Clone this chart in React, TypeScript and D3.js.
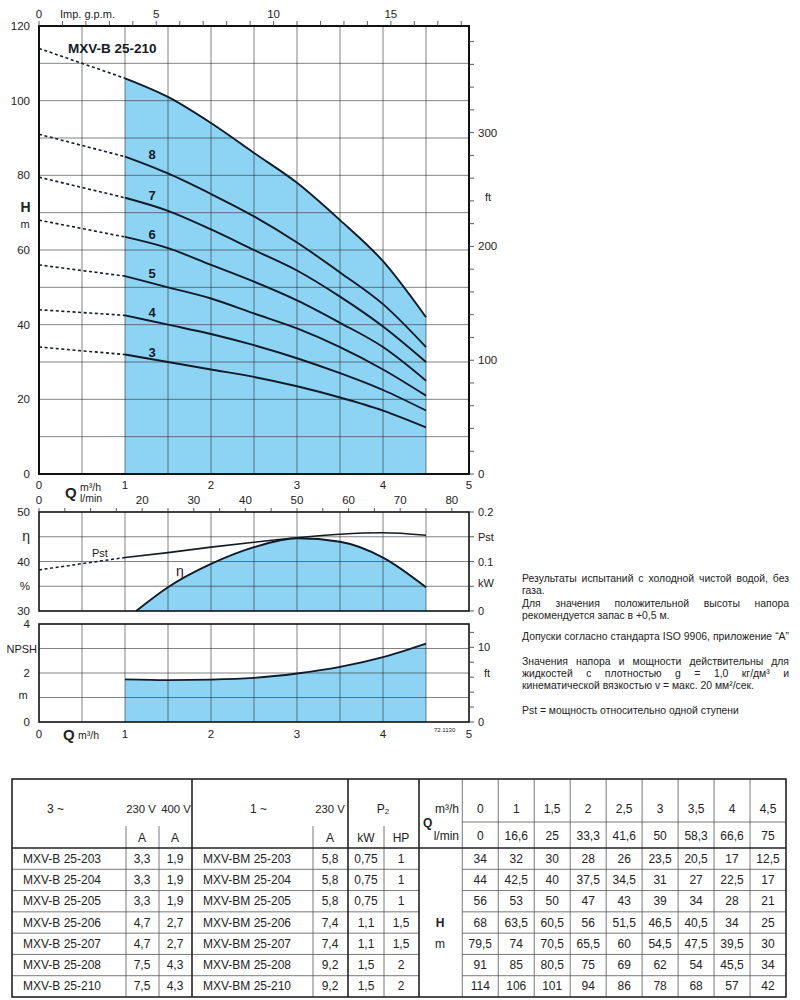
import React, { useMemo } from "react";
import * as d3 from "d3";

// ---------- DATA ----------
const qPoints = [0, 1, 1.5, 2, 2.5, 3, 3.5, 4, 4.5];
const qHeaderM3h = ["0", "1", "1,5", "2", "2,5", "3", "3,5", "4", "4,5"];
const qHeaderLmin = ["0", "16,6", "25", "33,3", "41,6", "50", "58,3", "66,6", "75"];

const models3 = ["MXV-B 25-203", "MXV-B 25-204", "MXV-B 25-205", "MXV-B 25-206", "MXV-B 25-207", "MXV-B 25-208", "MXV-B 25-210"];
const models1 = ["MXV-BM 25-203", "MXV-BM 25-204", "MXV-BM 25-205", "MXV-BM 25-206", "MXV-BM 25-207", "MXV-BM 25-208", "MXV-BM 25-210"];
const amp230 = ["3,3", "3,3", "3,3", "4,7", "4,7", "7,5", "7,5"];
const amp400 = ["1,9", "1,9", "1,9", "2,7", "2,7", "4,3", "4,3"];
const amp1ph = ["5,8", "5,8", "5,8", "7,4", "7,4", "9,2", "9,2"];
const powerKW = ["0,75", "0,75", "0,75", "1,1", "1,1", "1,5", "1,5"];
const powerHP = ["1", "1", "1", "1,5", "1,5", "2", "2"];

const head203 = [34, 32, 30, 28, 26, 23.5, 20.5, 17, 12.5];
const head204 = [44, 42.5, 40, 37.5, 34.5, 31, 27, 22.5, 17];
const head205 = [56, 53, 50, 47, 43, 39, 34, 28, 21];
const head206 = [68, 63.5, 60.5, 56, 51.5, 46.5, 40.5, 34, 25];
const head207 = [79.5, 74, 70.5, 65.5, 60, 54.5, 47.5, 39.5, 30];
const head208 = [91, 85, 80.5, 75, 69, 62, 54, 45.5, 34];
const head210 = [114, 106, 101, 94, 86, 78, 68, 57, 42];
const headSeries = [head203, head204, head205, head206, head207, head208, head210];
const stageLabels = ["3", "4", "5", "6", "7", "8"];
const modelLabel = "MXV-B 25-210";

const effQ = [1.13, 1.5, 2, 2.5, 3, 3.5, 4, 4.5];
const effVal = [30, 34.8, 39.5, 42.9, 44.7, 44.0, 40.8, 34.8];
const pstQDashed = [0, 0.5, 1];
const pstValDashed = [0.083, 0.0956, 0.108];
const pstQ = [1, 1.5, 2, 2.5, 3, 3.5, 4, 4.5];
const pstVal = [0.108, 0.118, 0.129, 0.139, 0.148, 0.155, 0.158, 0.153];
const npshQ = [1, 1.5, 2, 2.5, 3, 3.5, 4, 4.5];
const npshVal = [1.74, 1.71, 1.73, 1.8, 1.98, 2.25, 2.65, 3.2];

const hTicks = [0, 20, 40, 60, 80, 100, 120];
const ftTicks = [0, 100, 200, 300];
const gpmTicks = [0, 5, 10, 15];
const qTicks = [0, 1, 2, 3, 4, 5];
const lminTicks = [0, 20, 30, 40, 50, 60, 70, 80];

const noteLines = [
  { t: "Результаты испытаний с холодной чистой водой, без", j: true },
  { t: "газа.", j: false },
  { t: "Для значения положительной высоты напора", j: true },
  { t: "рекомендуется запас в +0,5 м.", j: false },
  { t: "Допуски согласно стандарта ISO 9906, приложение “A”", j: true },
  { t: "Значения напора и мощности действительны для", j: true },
  { t: "жидкостей с плотностью g = 1,0 кг/дм³ и", j: true },
  { t: "кинематической вязкостью v = макс. 20 мм²/сек.", j: false },
  { t: "Pst = мощность относительно одной ступени", j: false },
];
const noteY = [582, 594, 607, 619, 640, 665, 677, 689, 714];

// ---------- STYLE ----------
const FONT = "'Liberation Sans', Arial, Helvetica, sans-serif";
const BLUE = "#8dd4f4";
const INK = "#111b27";
const TXT = "#222";
const GRID = "#2a2a2a";

const M_TO_FT = 3.28084;
const GPM_PER_M3H = 3.6662;
const LMIN_PER_M3H = 16.6667;

function JustText({ text, x, y, width, justify, size }: any) {
  const measured = useMemo(() => {
    const c = document.createElement("canvas").getContext("2d") as CanvasRenderingContext2D;
    c.font = `${size}px 'Liberation Sans'`;
    const words = text.split(" ");
    const ws = words.map((w: string) => c.measureText(w).width);
    return { words, ws };
  }, [text, size]);
  if (!justify) {
    return (
      <text x={x} y={y} fontSize={size} fontFamily={FONT} fill={TXT}>
        {text}
      </text>
    );
  }
  const { words, ws } = measured;
  const total = ws.reduce((a: number, b: number) => a + b, 0);
  const gap = words.length > 1 ? (width - total) / (words.length - 1) : 0;
  let cx = x;
  return (
    <g fontSize={size} fontFamily={FONT} fill={TXT}>
      {words.map((w: string, i: number) => {
        const px = cx;
        cx += ws[i] + gap;
        return (
          <text key={i} x={px} y={y}>
            {w}
          </text>
        );
      })}
    </g>
  );
}

export default function App() {
  const L = 39, R = 469;
  const x = d3.scaleLinear().domain([0, 5]).range([L, R]);
  const xg = d3.scaleLinear().domain([0, 5 * GPM_PER_M3H]).range([L, R]);
  const xl = d3.scaleLinear().domain([0, 5 * LMIN_PER_M3H]).range([L, R]);

  const T1 = 26, B1 = 474;
  const yH = d3.scaleLinear().domain([0, 120]).range([B1, T1]);
  const yFt = d3.scaleLinear().domain([0, 120 * M_TO_FT]).range([B1, T1]);

  const T2 = 512, B2 = 611;
  const yE = d3.scaleLinear().domain([30, 50]).range([B2, T2]);
  const yP = d3.scaleLinear().domain([0, 0.2]).range([B2, T2]);

  const T3 = 624, B3 = 722;
  const yN = d3.scaleLinear().domain([0, 4]).range([B3, T3]);
  const yNft = d3.scaleLinear().domain([0, 4 * M_TO_FT]).range([B3, T3]);

  const mkLine = (xs: number[], ys: number[], sy: any, curve: any = d3.curveMonotoneX) =>
    d3.line<number>().x((d) => x(d)).y((_, i) => sy(ys[i])).curve(curve)(xs) as string;
  const mkArea = (xs: number[], ys: number[], sy: any, base: number) =>
    d3.area<number>().x((d) => x(d)).y0(sy(base)).y1((_, i) => sy(ys[i])).curve(d3.curveMonotoneX)(xs) as string;

  const halfSteps = d3.range(0.5, 5, 0.5);
  const solidQ = qPoints.slice(1);

  const gridStyle = { stroke: GRID, strokeWidth: 0.9, strokeOpacity: 0.65 };
  const tickLbl = { fontSize: 11.5, fontFamily: FONT, fill: TXT };

  // table geometry
  const tL = 12, tR = 786, tT = 779, tH = 848, tB = 997, tSub = 822;
  const rowH = (tB - tH) / 7;
  const rowY = (i: number) => tH + rowH * i;
  const valX0 = 462.3;
  const valW = (tR - valX0) / 9;
  const thick = { stroke: "#222", strokeWidth: 1.6 };
  const thin = { stroke: "#555", strokeWidth: 0.8 };
  const tFont = { fontSize: 12, fontFamily: FONT, fill: TXT };
  const vFont = { fontSize: 11.3, fontFamily: FONT, fill: TXT };

  return (
    <svg width={800} height={1000} style={{ position: "absolute", left: 0, top: 0, background: "#fff" }}>
      <rect x={0} y={0} width={800} height={1000} fill="#fff" />

      {/* ================= TOP CHART (H) ================= */}
      <path d={mkArea(solidQ, head210.slice(1), yH, 0)} fill={BLUE} />
      {halfSteps.map((q) => (
        <line key={"v1" + q} x1={x(q)} x2={x(q)} y1={T1} y2={B1} {...gridStyle} />
      ))}
      {d3.range(10, 120, 10).map((h) => (
        <line key={"h1" + h} x1={L} x2={R} y1={yH(h)} y2={yH(h)} {...gridStyle} />
      ))}
      {headSeries.map((s, i) => (
        <g key={"c" + i}>
          <path d={mkLine(qPoints.slice(0, 2), s.slice(0, 2), yH, d3.curveLinear)} fill="none" stroke={INK} strokeWidth={1.6} strokeDasharray="3,2.6" />
          <path d={mkLine(solidQ, s.slice(1), yH)} fill="none" stroke={INK} strokeWidth={1.9} />
        </g>
      ))}
      {stageLabels.map((lb, i) => (
        <text key={"sl" + i} x={x(1.315)} y={yH(headSeries[i][1]) + 2} textAnchor="middle" fontSize={13} fontWeight="bold" fontFamily={FONT} fill={INK}>
          {lb}
        </text>
      ))}
      <text x={68} y={53} fontSize={13.5} fontWeight="bold" fontFamily={FONT} fill={INK}>
        {modelLabel}
      </text>
      <rect x={L} y={T1} width={R - L} height={B1 - T1} fill="none" stroke="#111" strokeWidth={2} />
      {d3.range(0, 19, 1).map((g) => (
        <line key={"g" + g} x1={xg(g)} x2={xg(g)} y1={21} y2={T1} stroke="#333" strokeWidth={0.8} />
      ))}
      {gpmTicks.map((g) => (
        <text key={"gl" + g} x={xg(g)} y={18} textAnchor="middle" {...tickLbl}>
          {g}
        </text>
      ))}
      <text x={60} y={18} {...tickLbl} fontSize={11}>
        Imp. g.p.m.
      </text>
      {hTicks.map((h) => (
        <text key={"hl" + h} x={30} y={yH(h) + 4} textAnchor="end" {...tickLbl}>
          {h}
        </text>
      ))}
      <text x={25.5} y={212} textAnchor="middle" fontSize={14} fontWeight="bold" fontFamily={FONT} fill={TXT}>
        H
      </text>
      <text x={25} y={228} textAnchor="middle" fontSize={11} fontFamily={FONT} fill={TXT}>
        m
      </text>
      {d3.range(0, 390, 20).map((f) => (
        <line key={"ft" + f} x1={R} x2={R + 5} y1={yFt(f)} y2={yFt(f)} stroke="#333" strokeWidth={0.8} />
      ))}
      {ftTicks.map((f) => (
        <text key={"ftl" + f} x={478} y={yFt(f) + 4} {...tickLbl}>
          {f}
        </text>
      ))}
      <text x={485} y={201} {...tickLbl} fontSize={11}>
        ft
      </text>
      {qTicks.map((q) => (
        <text key={"q1" + q} x={x(q)} y={489} textAnchor="middle" {...tickLbl}>
          {q}
        </text>
      ))}
      <text x={65} y={498} fontSize={15} fontWeight="bold" fontFamily={FONT} fill={TXT}>
        Q
      </text>
      <text x={80} y={491} fontSize={10.5} fontFamily={FONT} fill={TXT}>
        m³/h
      </text>
      <text x={80} y={502} fontSize={10.5} fontFamily={FONT} fill={TXT}>
        l/min
      </text>
      {lminTicks.map((l) => (
        <text key={"lm" + l} x={xl(l)} y={504} textAnchor="middle" {...tickLbl}>
          {l}
        </text>
      ))}

      {/* ================= EFFICIENCY CHART ================= */}
      <path d={mkArea(effQ, effVal, yE, 30)} fill={BLUE} />
      {halfSteps.map((q) => (
        <line key={"v2" + q} x1={x(q)} x2={x(q)} y1={T2} y2={B2} {...gridStyle} />
      ))}
      {[35, 40, 45].map((e) => (
        <line key={"h2" + e} x1={L} x2={R} y1={yE(e)} y2={yE(e)} {...gridStyle} />
      ))}
      <path d={mkLine(effQ, effVal, yE)} fill="none" stroke={INK} strokeWidth={1.9} />
      <path d={mkLine(pstQDashed, pstValDashed, yP, d3.curveLinear)} fill="none" stroke={INK} strokeWidth={1.5} strokeDasharray="3,2.6" />
      <path d={mkLine(pstQ, pstVal, yP)} fill="none" stroke={INK} strokeWidth={1.6} />
      <rect x={L} y={T2} width={R - L} height={B2 - T2} fill="none" stroke="#111" strokeWidth={1.6} />
      {d3.range(0, 85, 5).map((l) => (
        <line key={"lt" + l} x1={xl(l)} x2={xl(l)} y1={T2 - 4} y2={T2} stroke="#333" strokeWidth={0.8} />
      ))}
      {[30, 35, 40, 45, 50].map((e) => (
        <line key={"rt2" + e} x1={R} x2={R + 5} y1={yE(e)} y2={yE(e)} stroke="#333" strokeWidth={0.8} />
      ))}
      {[
        ["50", 50],
        ["η", 45],
        ["40", 40],
        ["%", 35],
        ["30", 30],
      ].map(([s, v]: any) => (
        <text key={"el" + v} x={30} y={yE(v) + 4} textAnchor="end" {...tickLbl} fontSize={s === "η" ? 14 : 11.5}>
          {s}
        </text>
      ))}
      {[
        ["0.2", 0.2],
        ["Pst", 0.15],
        ["0.1", 0.1],
        ["kW", 0.05],
        ["0", 0],
      ].map(([s, v]: any) => (
        <text key={"pl" + v} x={478} y={yP(v) + 4 + (s === "kW" ? -3 : 0)} {...tickLbl} fontSize={11}>
          {s}
        </text>
      ))}
      <text x={92} y={557} fontSize={11} fontFamily={FONT} fill={TXT}>
        Pst
      </text>
      <text x={176} y={576} fontSize={14} fontFamily={FONT} fill={TXT}>
        η
      </text>

      {/* ================= NPSH CHART ================= */}
      <path d={mkArea(npshQ, npshVal, yN, 0)} fill={BLUE} />
      {halfSteps.map((q) => (
        <line key={"v3" + q} x1={x(q)} x2={x(q)} y1={T3} y2={B3} {...gridStyle} />
      ))}
      {[1, 2, 3].map((n) => (
        <line key={"h3" + n} x1={L} x2={R} y1={yN(n)} y2={yN(n)} {...gridStyle} />
      ))}
      <path d={mkLine(npshQ, npshVal, yN)} fill="none" stroke={INK} strokeWidth={1.9} />
      <rect x={L} y={T3} width={R - L} height={B3 - T3} fill="none" stroke="#111" strokeWidth={1.6} />
      {d3.range(0, 13, 2).map((f) => (
        <line key={"nt" + f} x1={R} x2={R + 5} y1={yNft(f)} y2={yNft(f)} stroke="#333" strokeWidth={0.8} />
      ))}
      {[
        ["4", 4],
        ["2", 2],
        ["0", 0],
      ].map(([s, v]: any) => (
        <text key={"nl" + v} x={30} y={yN(v) + 4} textAnchor="end" {...tickLbl}>
          {s}
        </text>
      ))}
      <text x={37} y={yN(3) + 4} textAnchor="end" {...tickLbl} fontSize={11}>
        NPSH
      </text>
      <text x={23} y={yN(1) + 1} textAnchor="middle" {...tickLbl} fontSize={11}>
        m
      </text>
      <text x={478} y={yNft(10) + 4} {...tickLbl} fontSize={11}>
        10
      </text>
      <text x={484} y={yNft(6.5) + 4} {...tickLbl} fontSize={11}>
        ft
      </text>
      <text x={478} y={yNft(0) + 4} {...tickLbl} fontSize={11}>
        0
      </text>
      {qTicks.map((q) => (
        <text key={"q3" + q} x={x(q)} y={738} textAnchor="middle" {...tickLbl}>
          {q}
        </text>
      ))}
      <text x={63} y={740} fontSize={15} fontWeight="bold" fontFamily={FONT} fill={TXT}>
        Q
      </text>
      <text x={78} y={739} fontSize={10.5} fontFamily={FONT} fill={TXT}>
        m³/h
      </text>
      <text x={434} y={732} fontSize={6} fontFamily={FONT} fill={TXT}>
        72.1130
      </text>

      {/* ================= NOTES ================= */}
      {noteLines.map((ln, i) => (
        <JustText key={"n" + i} text={ln.t} x={522} y={noteY[i]} width={267} justify={ln.j} size={10.4} />
      ))}

      {/* ================= TABLE ================= */}
      {d3.range(1, 7).map((i) => (
        <g key={"rs" + i}>
          <line x1={tL} x2={419} y1={rowY(i)} y2={rowY(i)} {...thin} />
          <line x1={valX0} x2={tR} y1={rowY(i)} y2={rowY(i)} {...thin} />
        </g>
      ))}
      <line x1={valX0} x2={tR} y1={tSub} y2={tSub} {...thin} />
      {[126, 159, 313, 384].map((vx) => (
        <line key={"sd" + vx} x1={vx} x2={vx} y1={826} y2={tB} {...thin} />
      ))}
      {d3.range(0, 9).map((k) => (
        <line key={"vd" + k} x1={valX0 + valW * k} x2={valX0 + valW * k} y1={tT} y2={tB} {...thin} />
      ))}
      {[192, 348, 419].map((vx) => (
        <line key={"td" + vx} x1={vx} x2={vx} y1={tT} y2={tB} {...thick} />
      ))}
      <line x1={tL} x2={tR} y1={tH} y2={tH} {...thick} />
      <rect x={tL} y={tT} width={tR - tL} height={tB - tT} fill="none" {...thick} />

      <text x={47} y={813} {...tFont}>3 ~</text>
      <text x={141} y={813} textAnchor="middle" {...vFont}>230 V</text>
      <text x={176} y={813} textAnchor="middle" {...vFont}>400 V</text>
      <text x={142} y={842} textAnchor="middle" {...tFont}>A</text>
      <text x={175} y={842} textAnchor="middle" {...tFont}>A</text>
      <text x={250} y={813} {...tFont}>1 ~</text>
      <text x={330} y={813} textAnchor="middle" {...vFont}>230 V</text>
      <text x={330} y={842} textAnchor="middle" {...tFont}>A</text>
      <text x={383} y={813} textAnchor="middle" {...tFont}>
        P<tspan fontSize={8} dy={1}>2</tspan>
      </text>
      <text x={366} y={842} textAnchor="middle" {...tFont}>kW</text>
      <text x={401} y={842} textAnchor="middle" {...tFont}>HP</text>
      <text x={459} y={813} textAnchor="end" {...tFont}>m³/h</text>
      <text x={423} y={827} fontSize={12} fontWeight="bold" fontFamily={FONT} fill={TXT}>Q</text>
      <text x={459} y={840} textAnchor="end" {...tFont}>l/min</text>
      {qHeaderM3h.map((s, k) => (
        <text key={"qh" + k} x={valX0 + valW * (k + 0.5)} y={813} textAnchor="middle" {...tFont}>
          {s}
        </text>
      ))}
      {qHeaderLmin.map((s, k) => (
        <text key={"ql" + k} x={valX0 + valW * (k + 0.5)} y={840} textAnchor="middle" {...tFont}>
          {s}
        </text>
      ))}
      <text x={440} y={rowY(3.5) + 4} textAnchor="middle" fontSize={12} fontWeight="bold" fontFamily={FONT} fill={TXT}>H</text>
      <text x={440} y={rowY(4.5) + 4} textAnchor="middle" {...tFont}>m</text>

      {models3.map((m, i) => {
        const cy = rowY(i + 0.5) + 4;
        return (
          <g key={"row" + i}>
            <text x={23} y={cy} {...tFont}>{m}</text>
            <text x={142} y={cy} textAnchor="middle" {...tFont}>{amp230[i]}</text>
            <text x={175} y={cy} textAnchor="middle" {...tFont}>{amp400[i]}</text>
            <text x={203} y={cy} {...tFont}>{models1[i]}</text>
            <text x={330} y={cy} textAnchor="middle" {...tFont}>{amp1ph[i]}</text>
            <text x={366} y={cy} textAnchor="middle" {...tFont}>{powerKW[i]}</text>
            <text x={401} y={cy} textAnchor="middle" {...tFont}>{powerHP[i]}</text>
            {headSeries[i].map((v, k) => (
              <text key={k} x={valX0 + valW * (k + 0.5)} y={cy} textAnchor="middle" {...tFont}>
                {String(v).replace(".", ",")}
              </text>
            ))}
          </g>
        );
      })}
    </svg>
  );
}
